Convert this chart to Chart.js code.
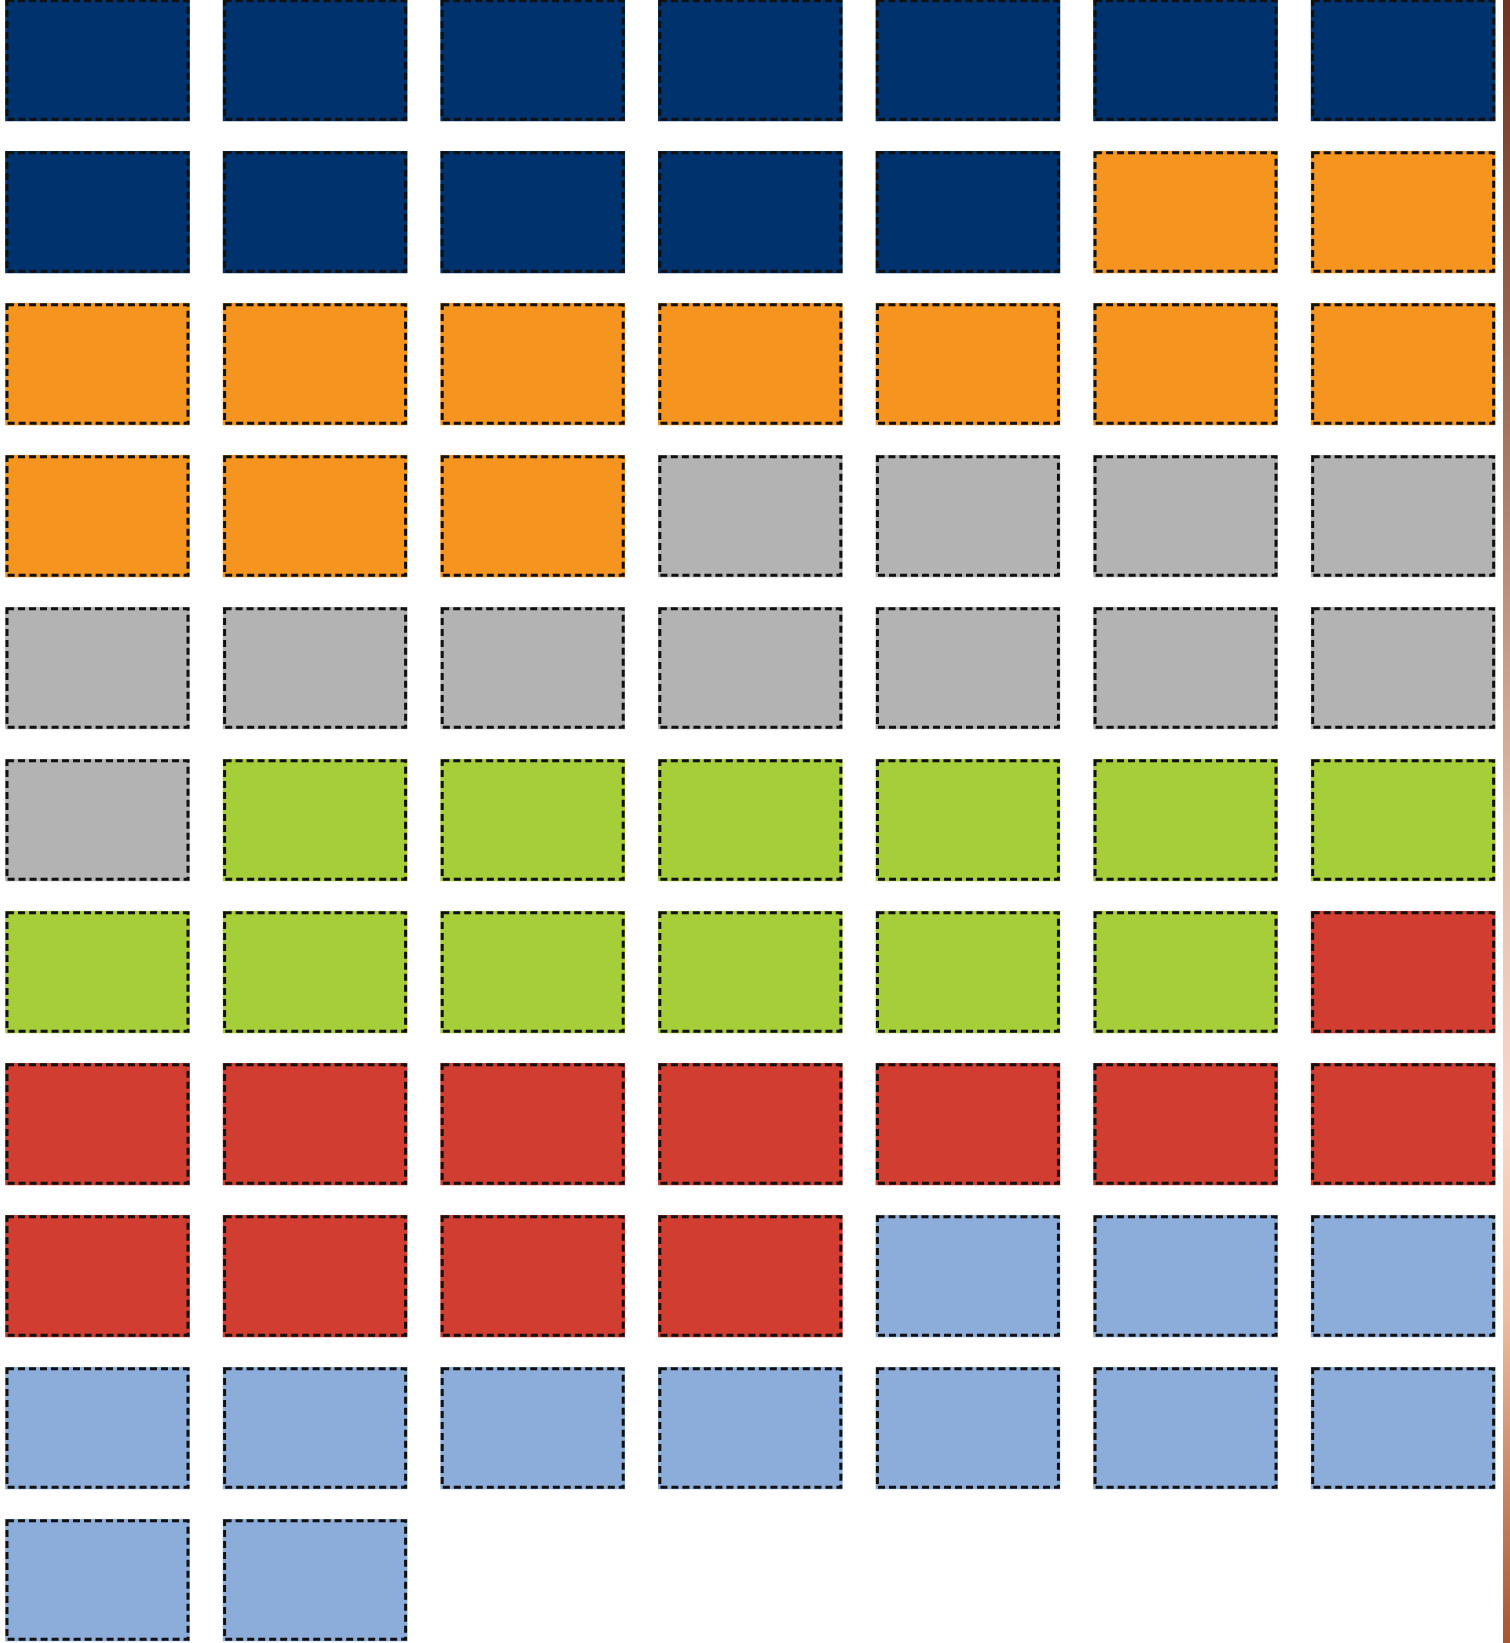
<!DOCTYPE html>
<html>
<head>
<meta charset="utf-8">
<script src="https://cdn.jsdelivr.net/npm/chart.js@4/dist/chart.umd.min.js"></script>
<style>
  html, body { margin: 0; padding: 0; background: #ffffff; }
  #wrap { position: relative; width: 1510px; height: 1643px; }
</style>
</head>
<body>
<div id="wrap"><canvas id="c" width="1510" height="1643"></canvas></div>
<script>
// ---- data ----
const categories = ['Category 1', 'Category 2', 'Category 3', 'Category 4', 'Category 5', 'Category 6'];
const counts = [12, 12, 12, 12, 12, 12];
const colors = ['#00336e', '#f5951f', '#b3b3b3', '#a6ce39', '#d13e31', '#8cadda'];
const columnsPerRow = 7;

// ---- build waffle cells (row-major fill) ----
let idx = 0;
const datasets = categories.map((name, ci) => {
  const data = [];
  for (let k = 0; k < counts[ci]; k++) {
    const col = idx % columnsPerRow;
    const row = Math.floor(idx / columnsPerRow);
    data.push({ x: col, y: [row - 0.4, row + 0.4] });
    idx++;
  }
  return {
    label: name,
    data,
    backgroundColor: colors[ci],
    borderWidth: 0,
    barThickness: 184,
    grouped: false
  };
});

// dashed outlines on each cell, taken from the bar elements
const dashPlugin = {
  id: 'dash',
  afterDatasetsDraw(chart) {
    const ctx = chart.ctx;
    ctx.save();
    ctx.setLineDash([7, 4]);
    ctx.lineWidth = 3;
    ctx.strokeStyle = '#111111';
    chart.data.datasets.forEach((ds, i) => {
      chart.getDatasetMeta(i).data.forEach(el => {
        const p = el.getProps(['x', 'y', 'base', 'width'], true);
        const left = p.x - p.width / 2 + 1.5;
        const top = Math.min(p.y, p.base) + 1.5;
        const h = Math.abs(p.base - p.y) - 3;
        ctx.strokeRect(left, top, p.width - 3, h);
      });
    });
    ctx.restore();
  }
};

// partial colour strip at the right edge
const stripPlugin = {
  id: 'strip',
  afterDraw(chart) {
    const ctx = chart.ctx;
    const H = chart.height;
    const g = ctx.createLinearGradient(0, 0, 0, H);
    g.addColorStop(0.0, '#6e3420');
    g.addColorStop(0.25, '#a0705a');
    g.addColorStop(0.5, '#e0bba8');
    g.addColorStop(0.68, '#fad8c8');
    g.addColorStop(0.8, '#edbda0');
    g.addColorStop(1.0, '#a85530');
    ctx.save();
    ctx.fillStyle = g;
    ctx.fillRect(1503, 0, 7, H);
    ctx.restore();
  }
};

new Chart(document.getElementById('c'), {
  type: 'bar',
  data: { datasets },
  options: {
    responsive: false,
    animation: false,
    maintainAspectRatio: false,
    layout: { padding: 0 },
    plugins: { legend: { display: false }, tooltip: { enabled: false } },
    scales: {
      x: { type: 'linear', offset: false, min: -0.448, max: 6.491, display: false, grid: { offset: false } },
      y: { type: 'linear', offset: false, min: -0.395, max: 10.414, reverse: true, display: false }
    }
  },
  plugins: [dashPlugin, stripPlugin]
});
</script>
</body>
</html>
